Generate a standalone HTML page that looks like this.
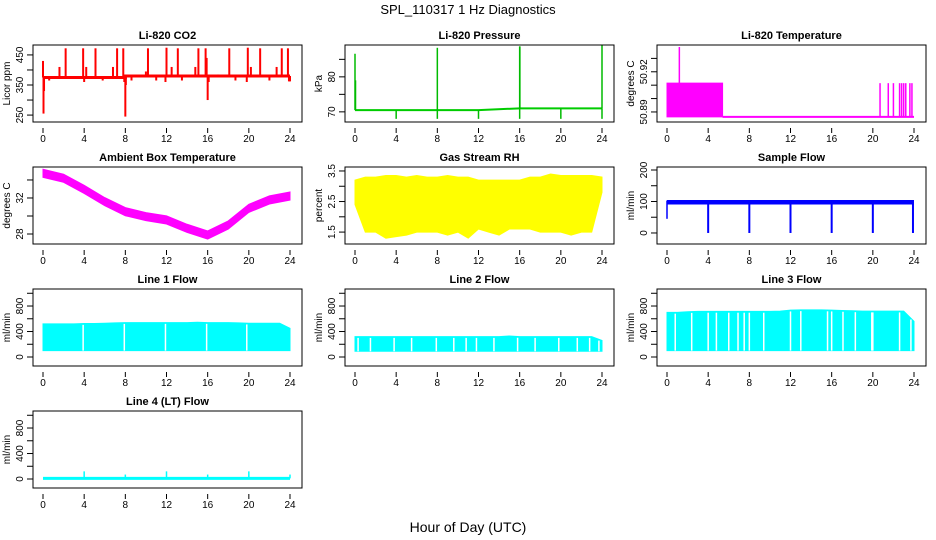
<!DOCTYPE html>
<html><head><meta charset="utf-8"><style>
html,body{margin:0;padding:0;background:#fff}
svg{display:block;font-family:"Liberation Sans",Arial,sans-serif}
</style></head><body>
<svg id="c" width="936" height="540" viewBox="0 0 936 540">
<text x="468" y="14" text-anchor="middle" font-size="13">SPL_110317  1 Hz Diagnostics</text>
<text x="468" y="532" text-anchor="middle" font-size="14">Hour of Day (UTC)</text>
</svg>
<script>
// ---- data ----
const xTicks = [0,4,8,12,16,20,24];
const co2BaseHours = [0,8,8,24];
const co2BaseVals = [375,375,380,380];
const co2SpikeHours = [0.0,0.05,0.1,0.6,1.6,2.2,3.9,4.0,4.2,5.1,5.8,6.8,7.2,7.8,7.9,8.0,8.05,8.6,10.0,10.2,11.0,11.9,12.0,12.5,13.1,13.5,14.8,15.1,15.8,15.9,16.0,16.1,17.0,18.1,18.7,19.8,19.9,20.2,21.1,22.0,22.7,23.2,23.8,23.9,24.0];
const co2SpikeVals  = [430,255,330,365,410,472,472,360,410,472,365,410,472,472,360,245,350,365,395,472,365,360,474,410,472,365,410,472,472,440,300,360,385,472,365,360,474,410,472,365,410,472,472,362,362];
const presBaseHours = [0,12,16,24];
const presBaseVals = [70.5,70.5,71,71];
const presSpikeHours = [0,0.05,8,16,16.02,24];
const presSpikeVals = [86.6,79,88.3,88.7,88.7,89];
const presDipHours = [4,8,12,16,20,24];
const presDipVals = [68,68,68,68,68,68];
const tempBase = 50.8863;
const tempHigh = 50.9115;
const tempBlockHours = [0,5.4];
const tempSpikeHours = [1.2];
const tempSpikeVals = [50.9385];
const tempBarHours = [20.7,21.5,22.0,22.6,22.8,23.0,23.2,23.6,23.8];
const hours = [0,1,2,3,4,5,6,7,8,9,10,11,12,13,14,15,16,17,18,19,20,21,22,23,24];
const ambHours = [0,2,4,6,8,10,12,14,16,18,20,22,24];
const ambVals = [34.74,34.19,32.96,31.59,30.48,29.93,29.56,28.63,27.89,29.0,30.85,31.78,32.22];
const ambHalfWidth = 0.45;
const rhUpper = [3.2,3.3,3.3,3.35,3.35,3.3,3.35,3.3,3.3,3.35,3.3,3.3,3.2,3.2,3.2,3.2,3.2,3.3,3.3,3.4,3.35,3.35,3.35,3.35,3.3];
const rhLower = [2.4,1.5,1.5,1.3,1.35,1.4,1.5,1.5,1.5,1.4,1.5,1.3,1.6,1.5,1.4,1.6,1.6,1.6,1.5,1.5,1.5,1.4,1.5,1.5,2.8];
const sampleUpper = 103, sampleLower = 92;
const sampleDropHours = [4,8,12,16,20,23.9];
const sampleDropVals = [0,0,0,0,0,0];
const line1Upper = [520,520,520,520,525,525,530,535,540,540,540,540,540,540,540,545,540,540,540,535,530,530,530,530,450];
const line1Lower = 100;
const line1Gaps = [3.9,7.9,11.9,15.9,19.8];
const line2Upper = [320,320,320,320,320,320,320,320,320,320,320,320,320,320,320,330,320,320,320,320,320,320,320,320,260];
const line2Lower = 90;
const line2Gaps = [0.3,1.5,3.8,5.5,7.9,9.6,10.8,11.8,13.5,15.8,17.5,19.8,21.6,22.8,23.7];
const line3Upper = [700,700,710,715,715,715,715,715,715,715,715,720,735,740,740,740,735,730,725,720,720,720,720,720,560];
const line3Lower = 100;
const line3Gaps = [0.8,2.4,4.0,4.8,6.0,6.9,7.5,8.0,9.4,12.0,13.0,15.6,16.0,17.1,18.3,19.9,20.0,22.6,23.7];
const line4Base = 10;
const line4SpikeHours = [4,8,12,16,20,24];
const line4SpikeVals = [120,70,120,70,120,70];

// ---- helpers ----
const NS = "http://www.w3.org/2000/svg";
const svg = document.getElementById('c');
function mk(tag, attrs, parent){
  const e = document.createElementNS(NS, tag);
  for (const k in attrs) e.setAttribute(k, attrs[k]);
  (parent||svg).appendChild(e);
  return e;
}
const colLeft = [33,345,657], rowTop = [45,167,289,411], BW = 269, BH = 77;

function panel(col,row,title,ylab,ylim,yTicks,yLabels,name){
  const L = colLeft[col], T = rowTop[row];
  const g = mk('g',{});
  
  
  const X = h => L + 10 + h*(247/24);
  const Y = v => T + (ylim[1]-v)/(ylim[1]-ylim[0])*BH;
  const t = mk('text',{x:L+BW/2,y:T-6,'text-anchor':'middle','font-size':11,'font-weight':'bold'},g);
  t.textContent = title;
  
  
  const plot = mk('g',{},g);
  
  
  // x axis
  const xa = mk('g',{},g);
  
  
  xTicks.forEach(h=>{
    mk('line',{x1:X(h),x2:X(h),y1:T+BH+6,y2:T+BH+11,stroke:'#000'},xa);
    const tl = mk('text',{x:X(h),y:T+BH+20,'text-anchor':'middle','font-size':10},xa);
    tl.textContent = h;
  });
  // y axis
  const ya = mk('g',{},g);
  
  
  yTicks.forEach((v,i)=>{
    mk('line',{x1:L-6,x2:L,y1:Y(v),y2:Y(v),stroke:'#000'},ya);
    if (yLabels[i] !== '') {
      const tl = mk('text',{x:0,y:0,'text-anchor':'middle','font-size':10,transform:`translate(${L-10},${Y(v)}) rotate(-90)`},ya);
      tl.textContent = yLabels[i];
    }
  });
  const yt = mk('text',{x:0,y:0,'text-anchor':'middle','font-size':10,transform:`translate(${L-23},${T+BH/2}) rotate(-90)`},ya);
  yt.textContent = ylab;
  
  
  const box = mk('rect',{x:L,y:T,width:BW,height:BH,fill:'none',stroke:'#000','stroke-width':1},g);
  
  
  return {X,Y,plot};
}
function polyline(p, hs, vs, color, w){
  const pts = hs.map((h,i)=>p.X(h)+','+p.Y(vs[i])).join(' ');
  return mk('polyline',{points:pts,fill:'none',stroke:color,'stroke-width':w},p.plot);
}
function vseg(p, h, v1, v2, color, w){
  return mk('line',{x1:p.X(h),x2:p.X(h),y1:p.Y(v1),y2:p.Y(v2),stroke:color,'stroke-width':w},p.plot);
}
function band(p, hs, up, lo, color){
  let d = hs.map((h,i)=>(i?'L':'M')+p.X(h)+' '+p.Y(up[i])).join(' ');
  for (let i=hs.length-1;i>=0;i--) d += ' L'+p.X(hs[i])+' '+p.Y(lo[i]);
  return mk('path',{d:d+' Z',fill:color,stroke:color,'stroke-width':1},p.plot);
}
const baseAt = (hs,vs,h)=>{ for(let i=0;i<hs.length-1;i++){ if(h>=hs[i]&&h<=hs[i+1]){const f=(hs[i+1]-hs[i])?(h-hs[i])/(hs[i+1]-hs[i]):0;return vs[i]+f*(vs[i+1]-vs[i]);} } return vs[vs.length-1]; };

// CO2
let p = panel(0,0,'Li-820 CO2','Licor ppm',[227,483],[250,300,350,400,450],['250','','350','','450'],'co2');
polyline(p, co2BaseHours, co2BaseVals, '#ff0000', 3);
co2SpikeHours.forEach((h,i)=>vseg(p,h,baseAt(co2BaseHours,co2BaseVals,h),co2SpikeVals[i],'#ff0000',2));

// Pressure
p = panel(1,0,'Li-820 Pressure','kPa',[67.1,89.1],[70,75,80,85],['70','','80',''],'pressure');
polyline(p, presBaseHours, presBaseVals, '#00cc00', 2);
presSpikeHours.forEach((h,i)=>vseg(p,h,baseAt(presBaseHours,presBaseVals,h),presSpikeVals[i],'#00bb00',1.5));
presDipHours.forEach((h,i)=>vseg(p,h,baseAt(presBaseHours,presBaseVals,h),presDipVals[i],'#00bb00',1.5));

// Temperature
p = panel(2,0,'Li-820 Temperature','degrees C',[50.8825,50.94],[50.89,50.9,50.91,50.92,50.93],['50.89','','','50.92',''],'licor-temp');
band(p, tempBlockHours, [tempHigh,tempHigh], [tempBase,tempBase], '#ff00ff');
polyline(p, [tempBlockHours[1],24], [tempBase,tempBase], '#ff00ff', 2);
tempSpikeHours.forEach((h,i)=>vseg(p,h,tempHigh,tempSpikeVals[i],'#ff00ff',1.5));
tempBarHours.forEach(h=>vseg(p,h,tempBase,tempHigh,'#ff00ff',1.5));

// Ambient
p = panel(0,1,'Ambient Box Temperature','degrees C',[26.89,35.44],[28,30,32,34],['28','','32',''],'ambient-temp');
band(p, ambHours, ambVals.map(v=>v+ambHalfWidth), ambVals.map(v=>v-ambHalfWidth), '#ff00ff');

// RH
p = panel(1,1,'Gas Stream RH','percent',[1.11,3.63],[1.5,2,2.5,3,3.5],['1.5','','2.5','','3.5'],'gas-rh');
band(p, hours, rhUpper, rhLower, '#ffff00');

// Sample flow
p = panel(2,1,'Sample Flow','ml/min',[-35,209.5],[0,50,100,150,200],['0','','100','','200'],'sample-flow');
band(p, [0.05,23.95], [sampleUpper,sampleUpper], [sampleLower,sampleLower], '#0000ff');
vseg(p,0,45,sampleUpper,'#0000ff',1.5);
sampleDropHours.forEach((h,i)=>vseg(p,h,sampleLower,sampleDropVals[i],'#0000ff',2));

// Line flows
const flowTicks=[0,200,400,600,800,1000], flowLabels=['0','','400','','800',''];
function flowPanel(col,row,title,upper,lower,gaps,name){
  const q = panel(col,row,title,'ml/min',[-141,1067],flowTicks,flowLabels,name);
  band(q, hours, upper, hours.map(()=>lower), '#00ffff');
  gaps.forEach(h=>vseg(q,h,baseAt(hours,upper,h)-20,lower,'#ffffff',1.5));
  return q;
}
flowPanel(0,2,'Line 1 Flow',line1Upper,line1Lower,line1Gaps,'line1-flow');
flowPanel(1,2,'Line 2 Flow',line2Upper,line2Lower,line2Gaps,'line2-flow');
flowPanel(2,2,'Line 3 Flow',line3Upper,line3Lower,line3Gaps,'line3-flow');
p = panel(0,3,'Line 4 (LT) Flow','ml/min',[-141,1067],flowTicks,flowLabels,'line4-flow');
polyline(p,[0,24],[line4Base,line4Base],'#00ffff',3);
line4SpikeHours.forEach((h,i)=>vseg(p,h,line4Base,line4SpikeVals[i],'#00ffff',1.5));
</script>
</body></html>
